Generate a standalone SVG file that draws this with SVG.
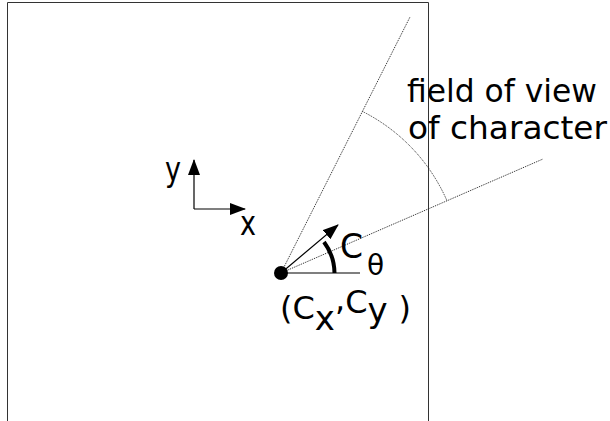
<svg xmlns="http://www.w3.org/2000/svg" width="610" height="421" viewBox="0 0 610 421">
<style>
text { font-family: "DejaVu Sans", "Liberation Sans", sans-serif; fill: #000; }
.dot { fill: none; stroke: #222; stroke-width: 1; stroke-dasharray: 1 1; }
.solid { fill: none; stroke: #000; stroke-width: 1.2; }
</style>
<defs>
<marker id="ah" viewBox="0 0 16 12" refX="15" refY="6" markerWidth="16" markerHeight="12" markerUnits="userSpaceOnUse" orient="auto">
<path d="M0,0 L16,6 L0,12 z" fill="#000"/>
</marker>
</defs>
<g id="frame">
<path d="M7.5 421 V2.5 H428.5 V421" fill="none" stroke="#333" stroke-width="1"/>
</g>
<g id="connectors">
<line class="dot" x1="281" y1="273" x2="410" y2="17"/>
<line class="dot" x1="281" y1="273" x2="543" y2="159"/>
<path class="dot" d="M362.4 111.4 A181 181 0 0 1 447 200.8"/>
<line class="solid" x1="281" y1="273" x2="360" y2="273"/>
<line class="solid" x1="281" y1="273" x2="338" y2="225" marker-end="url(#ah)"/>
<path d="M334.5 273 A53 53 0 0 0 324 242" fill="none" stroke="#000" stroke-width="4"/>
<line class="solid" x1="194" y1="209" x2="194" y2="160" marker-end="url(#ah)"/>
<line class="solid" x1="194" y1="209" x2="245" y2="209" marker-end="url(#ah)"/>
</g>
<g id="character">
<circle cx="281" cy="273" r="7" fill="#000"/>
</g>
<g id="axes-labels">
<text x="165" y="181" font-size="33" textLength="16" lengthAdjust="spacingAndGlyphs">y</text>
<text x="240" y="235" font-size="34" textLength="16" lengthAdjust="spacingAndGlyphs">x</text>
</g>
<g id="angle-label">
<text x="340" y="258" font-size="33">C<tspan dx="4" dy="17" font-size="28">θ</tspan></text>
</g>
<g id="position-label">
<text x="280" y="319" font-size="32">(C<tspan dy="11" font-size="34">x</tspan><tspan dy="-20">,</tspan><tspan dy="3">C</tspan><tspan dy="9" font-size="34">y</tspan><tspan dx="11" dy="-3">)</tspan></text>
</g>
<g id="fov-label">
<text x="407" y="102" font-size="32" textLength="190" lengthAdjust="spacingAndGlyphs">field of view</text>
<text x="408" y="139" font-size="32" textLength="199" lengthAdjust="spacingAndGlyphs">of character</text>
</g>
</svg>
